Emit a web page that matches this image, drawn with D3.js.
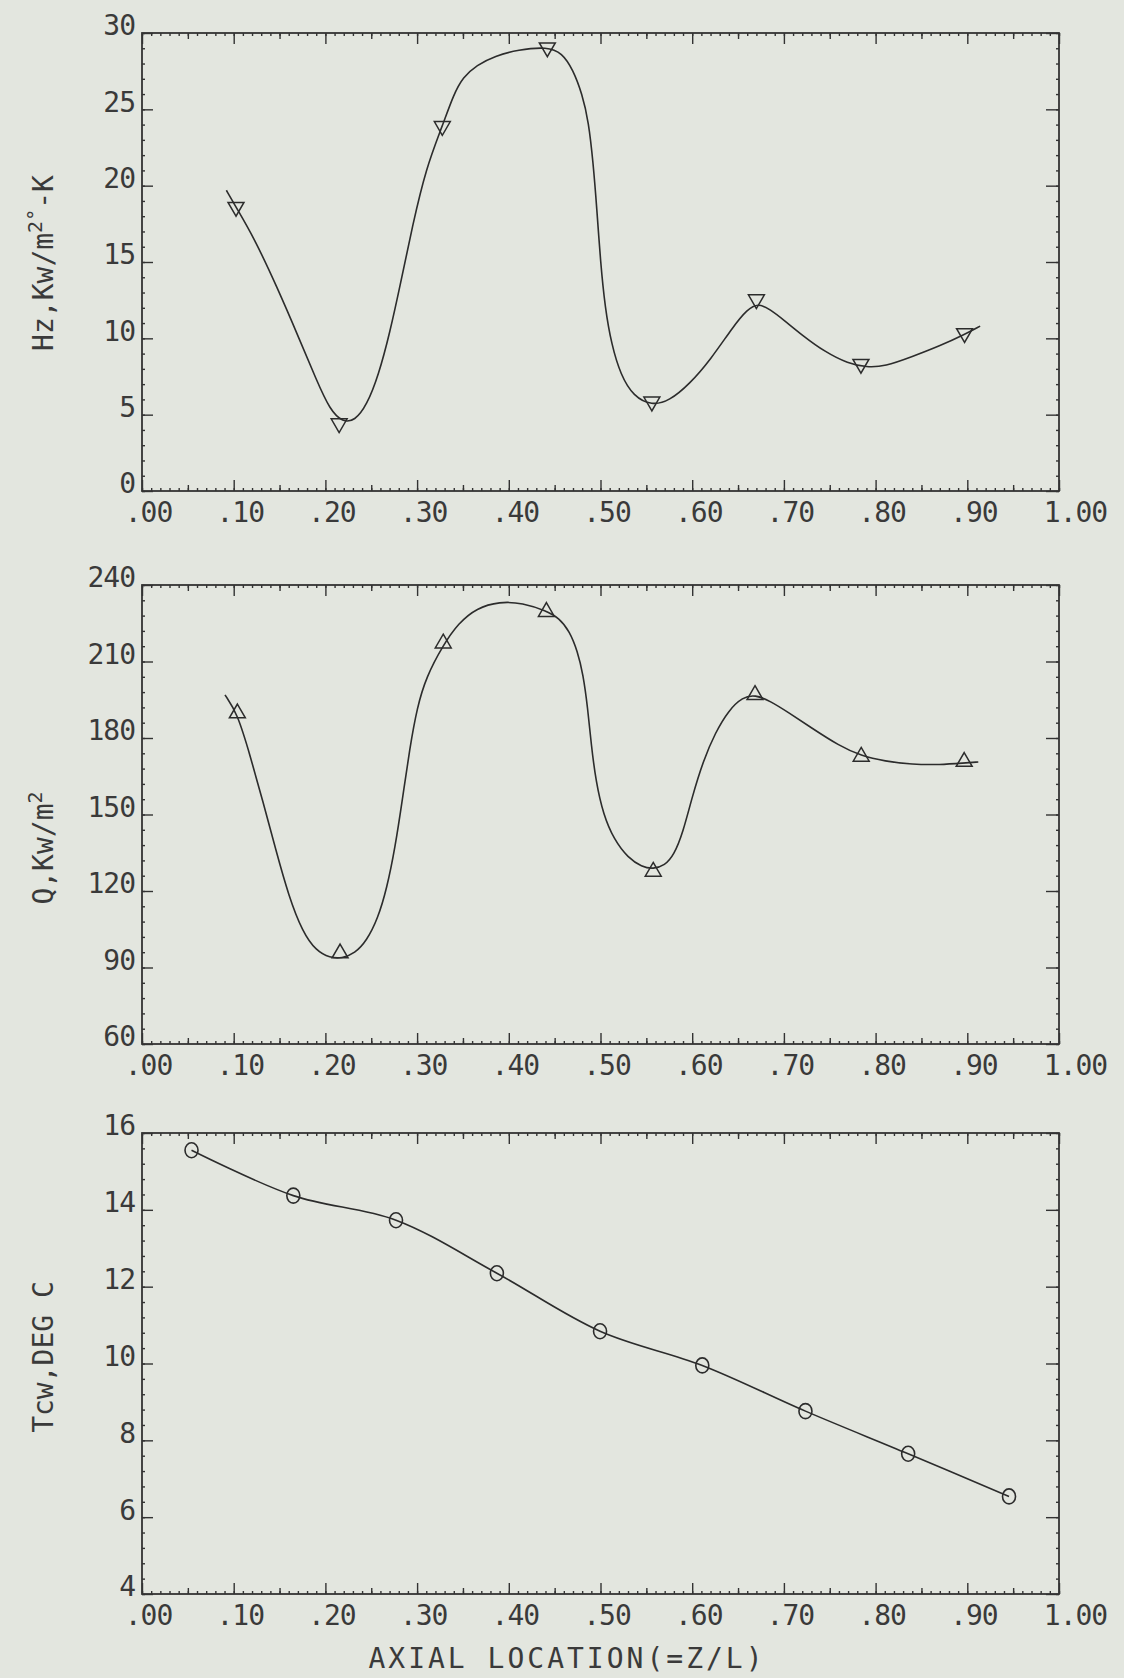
<!DOCTYPE html>
<head>
    <meta charset="utf-8">
    <script src="https://d3js.org/d3.v7.min.js"></script>
    <style>
        body { margin:0; background:#e3e6df; }
        text { font-family:"DejaVu Sans Mono", monospace; fill:#3a3a3a; }
    </style>
</head>
<body>
<script>
    // shared x axis (axial location z/L)
    var xTicks = [0, .1, .2, .3, .4, .5, .6, .7, .8, .9, 1];
    var xTickLabels = [".00", ".10", ".20", ".30", ".40", ".50", ".60", ".70", ".80", ".90", "1.00"];

    // panel 1: heat transfer coefficient Hz
    var hzTicks = [0, 5, 10, 15, 20, 25, 30];
    var hzPoints = [[0.1025, 18.6], [0.215, 4.43], [0.3275, 23.9], [0.442, 29.05],
        [0.556, 5.85], [0.67, 12.55], [0.784, 8.32], [0.897, 10.33]];
    // fitted curve
    var hzCurve = [[0.092, 19.7], [0.1025, 18.6], [0.122, 16.6], [0.147, 13.4], [0.172, 9.9],
        [0.19, 7.3], [0.205, 5.3], [0.219, 4.5], [0.232, 4.6], [0.245, 5.6], [0.258, 7.6],
        [0.27, 10.3], [0.282, 13.6], [0.295, 17.4], [0.31, 21.2], [0.3275, 23.9], [0.34, 26.0],
        [0.35, 27.1], [0.365, 27.9], [0.385, 28.5], [0.41, 28.9], [0.442, 29.1], [0.458, 28.7],
        [0.47, 27.6], [0.48, 26.0], [0.487, 24.2], [0.492, 21.5], [0.496, 18.5], [0.5, 15.0],
        [0.505, 12.0], [0.512, 9.6], [0.522, 7.6], [0.536, 6.2], [0.556, 5.6], [0.575, 5.9],
        [0.597, 7.0], [0.62, 8.6], [0.645, 10.8], [0.66, 11.9], [0.672, 12.3], [0.685, 11.9],
        [0.70, 11.2], [0.72, 10.2], [0.745, 9.1], [0.77, 8.35], [0.79, 8.1], [0.81, 8.15],
        [0.84, 8.8], [0.87, 9.5], [0.897, 10.25], [0.914, 10.8]];

    // panel 2: heat flux Q
    var qTicks = [60, 90, 120, 150, 180, 210, 240];
    var qPoints = [[0.104, 189.7], [0.216, 95.6], [0.3285, 217.1], [0.441, 229.5],
        [0.5575, 127.6], [0.6685, 196.9], [0.7843, 172.7], [0.8966, 170.7]];
    var qCurve = [[0.0905, 196.9], [0.104, 189.7], [0.118, 173], [0.132, 155], [0.146, 136],
        [0.16, 118], [0.175, 104], [0.19, 96.5], [0.205, 93.8], [0.218, 93.6], [0.232, 95.5],
        [0.245, 100.5], [0.257, 109], [0.267, 121], [0.276, 137], [0.284, 156], [0.292, 176],
        [0.3, 192], [0.31, 204], [0.3285, 216.5], [0.345, 225], [0.365, 231], [0.39, 233.5],
        [0.415, 233], [0.441, 229.8], [0.455, 227], [0.466, 222], [0.475, 214], [0.481, 205],
        [0.486, 192], [0.49, 177], [0.495, 163], [0.503, 150], [0.515, 140], [0.53, 133],
        [0.545, 129.5], [0.5575, 128.6], [0.57, 130], [0.58, 134], [0.59, 143], [0.6, 157],
        [0.612, 171], [0.625, 182], [0.64, 191], [0.655, 196], [0.6685, 197], [0.685, 194.5],
        [0.705, 190], [0.73, 184], [0.76, 177], [0.7843, 173], [0.81, 170.9], [0.84, 169.6],
        [0.87, 169.5], [0.8966, 170.2], [0.912, 170.6]];

    // panel 3: coolant water temperature
    var tTicks = [4, 6, 8, 10, 12, 14, 16];
    var tPoints = [[0.054, 15.55], [0.165, 14.37], [0.277, 13.73], [0.387, 12.35], [0.4995, 10.84],
        [0.611, 9.95], [0.7235, 8.76], [0.8355, 7.65], [0.9455, 6.54]];

    var width = 1124, height = 1678;
    var left = 142, right = 1059;

    var svg = d3.select("body").append("svg")
        .attr("width", width)
        .attr("height", height);

    var x = d3.scaleLinear().domain([0, 1]).range([left, right]);

    var panels = [
        {top: 33, bottom: 491, ticks: hzTicks, minor: 1, points: hzPoints, curve: hzCurve, smooth: d3.curveBasis,
            marker: "down", title: [["Hz,Kw/m", 0], ["2°", 1], ["-K", 0]], titleY: 263},
        {top: 585, bottom: 1044, ticks: qTicks, minor: 6, points: qPoints, curve: qCurve, smooth: d3.curveBasis,
            marker: "up", title: [["Q,Kw/m", 0], ["2", 1]], titleY: 848},
        {top: 1133, bottom: 1594, ticks: tTicks, minor: 0.4, points: tPoints, curve: tPoints,
            smooth: d3.curveCatmullRom.alpha(0.5), marker: "circle", title: [["Tcw,DEG C", 0]], titleY: 1357}
    ];

    var ink = "#333";

    function styleAxis(g) {
        g.select(".domain").remove();
        g.selectAll("line").attr("stroke", ink).attr("stroke-width", 1.4);
        g.attr("font-family", "DejaVu Sans Mono").attr("font-size", 28);
        g.selectAll("text").attr("fill", "#3a3a3a").style("letter-spacing", "-1px");
    }

    var y;

    panels.forEach(function(p) {
        var lo = p.ticks[0], hi = p.ticks[p.ticks.length - 1];
        y = d3.scaleLinear().domain([lo, hi]).range([p.bottom, p.top]);
        var g = svg.append("g");

        // y minor ticks, both sides
        var yMinor = d3.range(lo, hi + 1e-9, p.minor);
        g.append("g").attr("transform", "translate(" + left + ",0)")
            .call(d3.axisLeft(y).tickValues(yMinor).tickSize(-3).tickFormat("")).call(styleAxis);
        g.append("g").attr("transform", "translate(" + right + ",0)")
            .call(d3.axisRight(y).tickValues(yMinor).tickSize(-3).tickFormat("")).call(styleAxis);

        // y major ticks and labels
        g.append("g").attr("transform", "translate(" + left + ",0)")
            .call(d3.axisLeft(y).tickValues(p.ticks).tickSize(-11).tickPadding(7)
                .tickFormat(function(d) { return String(d); }))
            .call(styleAxis)
            .selectAll("text").attr("dy", "0.07em");
        g.append("g").attr("transform", "translate(" + right + ",0)")
            .call(d3.axisRight(y).tickValues(p.ticks).tickSize(-13).tickFormat("")).call(styleAxis);

        // x minor ticks top and bottom
        var xMinor = d3.range(0, 1.00001, 0.01);
        var xMid = d3.range(0.05, 1, 0.1);
        [[d3.axisTop, p.top], [d3.axisBottom, p.bottom]].forEach(function(a) {
            g.append("g").attr("transform", "translate(0," + a[1] + ")")
                .call(a[0](x).tickValues(xMinor).tickSize(-3).tickFormat("")).call(styleAxis);
            g.append("g").attr("transform", "translate(0," + a[1] + ")")
                .call(a[0](x).tickValues(xMid).tickSize(-6).tickFormat("")).call(styleAxis);
        });
        g.append("g").attr("transform", "translate(0," + p.top + ")")
            .call(d3.axisTop(x).tickValues(xTicks).tickSize(-11).tickFormat("")).call(styleAxis);
        g.append("g").attr("transform", "translate(0," + p.bottom + ")")
            .call(d3.axisBottom(x).tickValues(xTicks).tickSize(-11).tickPadding(11)
                .tickFormat(function(d, i) { return xTickLabels[i]; }))
            .call(styleAxis)
            .selectAll("text").attr("dx", function(d, i) { return i === 10 ? 16 : 6; });

        // frame
        g.append("rect")
            .attr("x", left).attr("y", p.top)
            .attr("width", right - left).attr("height", p.bottom - p.top)
            .attr("fill", "none").attr("stroke", ink).attr("stroke-width", 1.8);

        // fitted curve
        var lineFunction = d3.line()
            .x(function(d) { return x(d[0]); })
            .y(function(d) { return y(d[1]); })
            .curve(p.smooth);
        g.append("path")
            .attr("d", lineFunction(p.curve))
            .attr("fill", "none")
            .attr("stroke", "#2c2c2c")
            .attr("stroke-width", 1.6);

        // data markers
        if (p.marker === "circle") {
            g.selectAll("ellipse.pt").data(p.points).enter().append("ellipse")
                .attr("cx", function(d) { return x(d[0]); })
                .attr("cy", function(d) { return y(d[1]); })
                .attr("rx", 6.5).attr("ry", 7.5)
                .attr("fill", "none").attr("stroke", "#2c2c2c").attr("stroke-width", 1.6);
        } else {
            var rot = p.marker === "down" ? 180 : 0;
            g.selectAll("path.pt").data(p.points).enter().append("path")
                .attr("class", "pt")
                .attr("d", d3.symbol().type(d3.symbolTriangle).size(110))
                .attr("transform", function(d) {
                    return "translate(" + x(d[0]) + "," + y(d[1]) + ") rotate(" + rot + ")";
                })
                .attr("fill", "none").attr("stroke", "#2c2c2c").attr("stroke-width", 1.5);
        }

        // y title, rotated
        var t = svg.append("text")
            .attr("transform", "translate(53," + p.titleY + ") rotate(-90)")
            .attr("text-anchor", "middle")
            .attr("font-size", 28);
        p.title.forEach(function(part, i) {
            var prev = i > 0 ? p.title[i - 1][1] : 0;
            t.append("tspan")
                .attr("font-size", part[1] ? 20 : 28)
                .attr("dy", part[1] === prev ? 0 : (part[1] ? -11 : 11))
                .text(part[0]);
        });
    });

    svg.append("text")
        .attr("x", 567)
        .attr("y", 1668)
        .attr("text-anchor", "middle")
        .attr("font-size", 28)
        .style("letter-spacing", "3px")
        .text("AXIAL LOCATION(=Z/L)");
</script>
</body>
